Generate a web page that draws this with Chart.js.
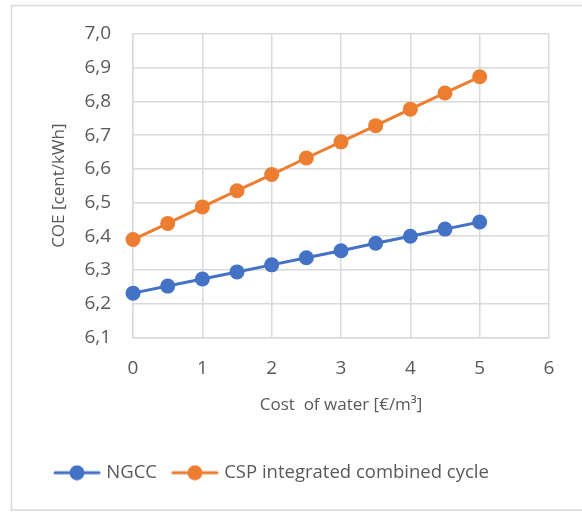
<!DOCTYPE html>
<html>
<head>
<meta charset="utf-8">
<script src="https://cdn.jsdelivr.net/npm/chart.js@4/dist/chart.umd.min.js"></script>
<style>
  html, body { margin: 0; padding: 0; background: #fff; }
  #wrap { position: relative; width: 582px; height: 512px; }
</style>
</head>
<body>
<div id="wrap"><canvas id="c" width="582" height="512"></canvas></div>
<script>
const waterCost = [0, 0.5, 1, 1.5, 2, 2.5, 3, 3.5, 4, 4.5, 5];
const ngcc = [6.231, 6.252, 6.273, 6.294, 6.315, 6.336, 6.357, 6.379, 6.400, 6.421, 6.442];
const csp = [6.390, 6.438, 6.487, 6.535, 6.583, 6.632, 6.680, 6.728, 6.777, 6.825, 6.873];
const seriesNames = ["NGCC", "CSP integrated combined cycle"];
const xTitle = "Cost  of water [€/m³]";
const yTitle = "COE [cent/kWh]";

const BLUE = "#4472C4", ORANGE = "#ED7D31";
const FONT = "'Open Sans', 'Noto Sans', sans-serif";

function legendIcon(color) {
  const cv = document.createElement("canvas");
  cv.width = 48; cv.height = 16;
  const g = cv.getContext("2d");
  g.strokeStyle = color; g.lineWidth = 3; g.lineCap = "round";
  g.beginPath(); g.moveTo(2, 8); g.lineTo(46, 8); g.stroke();
  g.fillStyle = color;
  g.beginPath(); g.arc(24, 8, 7.5, 0, Math.PI * 2); g.fill();
  return cv;
}

const borderPlugin = {
  id: "outerBorder",
  beforeDraw(chart) {
    const ctx = chart.ctx;
    ctx.save();
    ctx.fillStyle = "#fff";
    ctx.fillRect(0, 0, chart.width, chart.height);
    ctx.strokeStyle = "#D9D9D9";
    ctx.lineWidth = 1.5;
    ctx.strokeRect(11.5, 5.5, 600, 504.5);
    ctx.restore();
  }
};

function toPoints(arr) { return waterCost.map((x, i) => ({ x: x, y: arr[i] })); }

new Chart(document.getElementById("c"), {
  type: "line",
  data: {
    datasets: [
      { label: seriesNames[0], data: toPoints(ngcc), borderColor: BLUE, backgroundColor: BLUE,
        borderWidth: 3, pointRadius: 7.5, pointHoverRadius: 7.5, pointBorderWidth: 0, tension: 0,
        pointStyle: "circle", clip: false },
      { label: seriesNames[1], data: toPoints(csp), borderColor: ORANGE, backgroundColor: ORANGE,
        borderWidth: 3, pointRadius: 7.5, pointHoverRadius: 7.5, pointBorderWidth: 0, tension: 0,
        pointStyle: "circle", clip: false }
    ]
  },
  options: {
    responsive: false,
    animation: false,
    layout: { padding: { left: 39, right: 33, top: 34, bottom: 20 } },
    plugins: {
      tooltip: { enabled: false },
      legend: {
        position: "bottom",
        align: "start",
        labels: {
          usePointStyle: true,
          pointStyleWidth: 40,
          generateLabels(chart) {
            return chart.data.datasets.map((ds, i) => ({
              text: ds.label,
              pointStyle: legendIcon(ds.borderColor),
              fillStyle: ds.borderColor,
              strokeStyle: ds.borderColor,
              lineWidth: 0,
              fontColor: "#595959",
              datasetIndex: i,
              hidden: false
            }));
          },
          color: "#595959",
          font: { family: FONT, size: 18.5 },
          padding: 18,
          boxHeight: 14
        }
      }
    },
    scales: {
      x: {
        type: "linear",
        min: 0, max: 6,
        afterFit(scale) { scale.height -= 19; },
        ticks: { stepSize: 1, color: "#595959", font: { family: FONT, size: 19 }, padding: 20 },
        grid: { color: "#D9D9D9", lineWidth: 1.5, drawTicks: false },
        border: { color: "#D9D9D9", width: 1.5 },
        title: { display: true, text: xTitle, color: "#595959", font: { family: FONT, size: 17 }, padding: { top: 14, bottom: 30 } }
      },
      y: {
        min: 6.1, max: 7.0,
        afterFit(scale) { scale.width -= 22; },
        ticks: {
          stepSize: 0.1, color: "#595959", font: { family: FONT, size: 19 }, padding: 22,
          callback: v => v.toFixed(1).replace(".", ",")
        },
        grid: { color: "#D9D9D9", lineWidth: 1.5, drawTicks: false },
        border: { color: "#D9D9D9", width: 1.5 },
        title: { display: true, text: yTitle, color: "#595959", font: { family: FONT, size: 17 }, padding: { top: 10, bottom: 15 } }
      }
    }
  },
  plugins: [borderPlugin]
});
</script>
</body>
</html>
